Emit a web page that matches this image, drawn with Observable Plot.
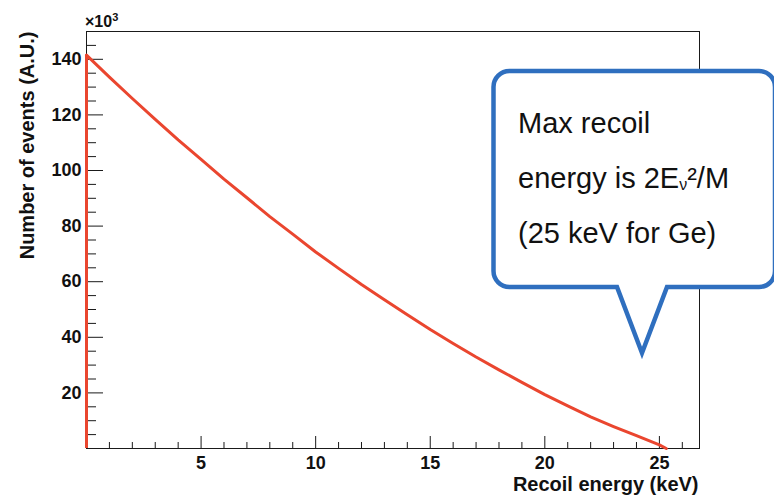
<!DOCTYPE html>
<html>
<head>
<meta charset="utf-8">
<script src="https://cdn.jsdelivr.net/npm/d3@7"></script>
<script src="https://cdn.jsdelivr.net/npm/@observablehq/plot@0.6"></script>
<style>
  html, body { margin: 0; padding: 0; background: #fff; overflow: hidden; }
</style>
</head>
<body>
<div id="chart"></div>
<script>
// Nuclear recoil spectrum: recoil energy (keV) vs. number of events (×10³, A.U.)
const energy = [0, 1, 2, 3, 4, 5, 6, 7, 8, 9, 10, 11, 12, 13, 14, 15, 16, 17, 18, 19, 20, 21, 22, 23, 24, 25, 25.3];
const events = [141.5, 133.6, 125.9, 118.4, 111.0, 104.0, 96.9, 90.2, 83.4, 77.1, 70.7, 64.8, 59.0, 53.5, 48.1, 42.8, 37.8, 32.9, 28.3, 23.8, 19.4, 15.3, 11.4, 7.9, 4.6, 1.3, 0];

// Axis ticks
const xMajorTicks = [5, 10, 15, 20, 25];
const xMinorTicks = [1, 2, 3, 4, 6, 7, 8, 9, 11, 12, 13, 14, 16, 17, 18, 19, 21, 22, 23, 24, 26];
const yMajorTicks = [20, 40, 60, 80, 100, 120, 140];
const yMinorTicks = [5, 10, 15, 25, 30, 35, 45, 50, 55, 65, 70, 75, 85, 90, 95, 105, 110, 115, 125, 130, 135, 145];

// Callout text
const calloutLines = ["Max recoil", "energy is 2E", "(25 keV for Ge)"];

const spectrum = energy.map((e, i) => ({energy: e, events: events[i]}));

const W = 774, H = 495;
const M = {top: 31, right: 75, bottom: 47, left: 86};
const frameW = W - M.left - M.right;
const frameH = H - M.top - M.bottom;
const ink = "#1a1a1a";
const red = "#ea462f";
const blue = "#2f6fbf";
const font = "'Liberation Sans', Arial, Helvetica, sans-serif";

// Exponent note above the y axis: ×10³
function exponent(index, scales, values, dims) {
  const t = d3.create("svg:text")
    .attr("x", dims.marginLeft - 1).attr("y", dims.marginTop - 4)
    .attr("text-anchor", "start").attr("font-family", font)
    .attr("font-weight", "bold").attr("font-size", 16).attr("fill", "#111");
  t.append("tspan").text("×10");
  t.append("tspan").attr("font-size", 11).attr("dy", -6).text("3");
  return t.node();
}

// Speech-bubble annotation pointing at the end of the spectrum
function callout(index, scales, values, dims) {
  const L = 493.5, T = 71, R = 775, B = 287, r = 16;
  const nL = 617, nR = 667, tipX = 642, tipY = 353;
  const g = d3.create("svg:g");
  const p = [
    `M${nL},${B}`, `L${L + r},${B}`, `A${r},${r} 0 0 1 ${L},${B - r}`,
    `L${L},${T + r}`, `A${r},${r} 0 0 1 ${L + r},${T}`,
    `L${R - r},${T}`, `A${r},${r} 0 0 1 ${R},${T + r}`,
    `L${R},${B - r}`, `A${r},${r} 0 0 1 ${R - r},${B}`,
    `L${nR},${B}`, `L${tipX},${tipY}`, "Z"
  ].join(" ");
  g.append("path").attr("d", p).attr("fill", "#fff").attr("stroke", blue)
    .attr("stroke-width", 4.5).attr("stroke-linejoin", "miter");
  const t = g.append("g").attr("font-family", font).attr("font-size", 29)
    .attr("text-anchor", "start").attr("fill", "#111");
  t.append("text").attr("x", 518).attr("y", 133).text(calloutLines[0]);
  const l2 = t.append("text").attr("x", 518).attr("y", 188);
  l2.append("tspan").text(calloutLines[1]);
  l2.append("tspan").attr("font-size", 16).attr("dy", 2).text("ν");
  l2.append("tspan").attr("dy", -2).text("²/M");
  t.append("text").attr("x", 518).attr("y", 243).text(calloutLines[2]);
  return g.node();
}

const chart = Plot.plot({
  width: W,
  height: H,
  marginTop: M.top,
  marginRight: M.right,
  marginBottom: M.bottom,
  marginLeft: M.left,
  style: {fontFamily: font, background: "#fff", overflow: "visible", color: ink},
  x: {domain: [0, 26.75]},
  y: {domain: [0, 150]},
  marks: [
    // inward tick marks on the left and bottom edges
    Plot.tickY(yMinorTicks, {y: d => d, insetRight: frameW - 10, stroke: ink}),
    Plot.tickY(yMajorTicks, {y: d => d, insetRight: frameW - 17, stroke: ink}),
    Plot.tickX(xMinorTicks, {x: d => d, insetTop: frameH - 6, stroke: ink}),
    Plot.tickX(xMajorTicks, {x: d => d, insetTop: frameH - 12, stroke: ink}),
    Plot.frame({stroke: ink}),
    Plot.axisY({ticks: yMajorTicks, tickSize: 0, tickPadding: 5, fontSize: 18, fontWeight: "bold", label: null, color: "#111"}),
    Plot.axisX({ticks: xMajorTicks, tickSize: 0, tickPadding: 8, fontSize: 18, fontWeight: "bold", label: null, color: "#111"}),
    // spectrum
    Plot.ruleX([spectrum[0]], {x: "energy", y1: 0, y2: "events", stroke: red, strokeWidth: 3}),
    Plot.line(spectrum, {x: "energy", y: "events", stroke: red, strokeWidth: 3}),
    // titles
    Plot.text(["Recoil energy (keV)"], {text: d => d, frameAnchor: "bottom-right", textAnchor: "end", lineAnchor: "bottom", dx: -1, dy: 42, fontSize: 20, fontWeight: "bold", fill: "#111"}),
    Plot.text(["Number of events (A.U.)"], {text: d => d, frameAnchor: "top-left", rotate: -90, textAnchor: "end", lineAnchor: "bottom", dx: -53, dy: 0, fontSize: 20, fontWeight: "bold", fill: "#111"}),
    exponent,
    callout
  ]
});

document.getElementById("chart").appendChild(chart);
</script>
</body>
</html>
